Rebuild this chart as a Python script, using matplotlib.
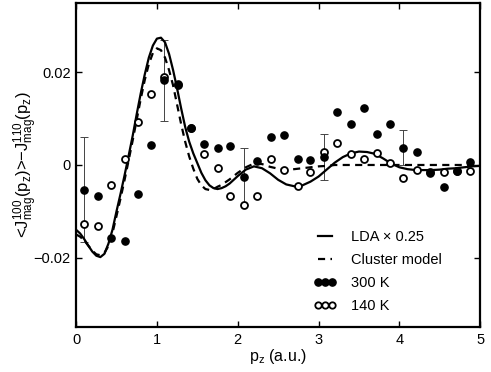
import matplotlib
matplotlib.use("Agg")
import matplotlib.pyplot as plt
from matplotlib.lines import Line2D

plt.rcParams['font.family'] = ['Liberation Sans', 'DejaVu Sans']
plt.rcParams['mathtext.fontset'] = 'custom'
plt.rcParams['mathtext.rm'] = 'Liberation Sans'
plt.rcParams['mathtext.it'] = 'Liberation Sans:italic'
plt.rcParams['mathtext.default'] = 'regular'

# ---- data ----
curve_x = [0.0, 0.05, 0.1, 0.15, 0.2, 0.25, 0.3, 0.35, 0.4, 0.45, 0.5, 0.55,
           0.6, 0.65, 0.7, 0.75, 0.8, 0.85, 0.9, 0.95, 1.0, 1.05, 1.1, 1.15,
           1.2, 1.25, 1.3, 1.35, 1.4, 1.45, 1.5, 1.55, 1.6, 1.65, 1.7, 1.75,
           1.8, 1.85, 1.9, 2.0, 2.1, 2.2, 2.3, 2.4, 2.5, 2.6, 2.7, 2.8, 2.9,
           3.0, 3.1, 3.2, 3.3, 3.4, 3.5, 3.6, 3.7, 3.8, 3.9, 4.0, 4.1, 4.2,
           4.3, 4.4, 4.5, 4.6, 4.7, 4.8, 4.9, 5.0]
lda = [-0.0140, -0.0148, -0.0160, -0.0174, -0.0187, -0.0196, -0.0199, -0.0192,
       -0.0170, -0.0140, -0.0100, -0.0062, -0.0022, 0.0020, 0.0063, 0.0110,
       0.0155, 0.0196, 0.0232, 0.0258, 0.0273, 0.0275, 0.0265, 0.0240, 0.0205,
       0.0165, 0.0122, 0.0082, 0.0050, 0.0025, 0.0004, -0.0017, -0.0033,
       -0.0044, -0.0050, -0.0052, -0.0050, -0.0046, -0.0040, -0.0024, -0.0010,
       -0.0003, -0.0007, -0.0018, -0.0032, -0.0042, -0.0046, -0.0044, -0.0036,
       -0.0025, -0.0010, 0.0005, 0.0017, 0.0025, 0.0029, 0.0028, 0.0024,
       0.0014, 0.0003, -0.0005, -0.0009, -0.0011, -0.0011, -0.0011, -0.0010,
       -0.0008, -0.0007, -0.0005, -0.0003, -0.0002]
cluster = [-0.0150, -0.0155, -0.0163, -0.0174, -0.0185, -0.0193, -0.0195,
           -0.0190, -0.0175, -0.0147, -0.0110, -0.0072, -0.0032, 0.0010, 0.0053,
           0.0098, 0.0143, 0.0184, 0.0218, 0.0242, 0.0252, 0.0248, 0.0232,
           0.0205, 0.0172, 0.0130, 0.0088, 0.0050, 0.0018, -0.0008, -0.0030,
           -0.0044, -0.0052, -0.0054, -0.0052, -0.0047, -0.0043, -0.0037,
           -0.0031, -0.0017, -0.0005, 0.0003, 0.0002, -0.0004, -0.0008, -0.0010,
           -0.0009, -0.0007, -0.0005, -0.0003, -0.0002, 0.0, 0.0, 0.0, 0.0, 0.0,
           0.0, 0.0, 0.0, 0.0, 0.0, 0.0, 0.0, 0.0, 0.0, 0.0, 0.0, 0.0, 0.0, 0.0]

pz = [0.10, 0.27, 0.43, 0.60, 0.76, 0.93, 1.09, 1.26, 1.42, 1.58, 1.75, 1.91,
      2.08, 2.24, 2.41, 2.57, 2.74, 2.90, 3.07, 3.23, 3.40, 3.56, 3.72, 3.89,
      4.05, 4.22, 4.38, 4.55, 4.71, 4.88]
t300 = [-0.0053, -0.0066, -0.0157, -0.0164, -0.0063, 0.0043, 0.0183, 0.0175,
        0.0080, 0.0045, 0.0036, 0.0042, -0.0025, 0.0009, 0.0060, 0.0064, 0.0012,
        0.0011, 0.0017, 0.0115, 0.0088, 0.0124, 0.0067, 0.0088, 0.0037, 0.0029,
        -0.0018, -0.0047, -0.0014, 0.0006]
t140 = [-0.0127, -0.0131, -0.0043, 0.0013, 0.0092, 0.0153, 0.0191, 0.0172,
        0.0080, 0.0023, -0.0007, -0.0068, -0.0086, -0.0066, 0.0012, -0.0011,
        -0.0045, -0.0015, 0.0029, 0.0047, 0.0024, 0.0012, 0.0025, 0.0004,
        -0.0029, -0.0011, -0.0016, -0.0016, -0.0012, -0.0012]
err_idx = [0, 6, 12, 18, 24]
err_val = [0.0113, 0.0088, 0.0062, 0.0049, 0.0038]

xticks = [0, 1, 2, 3, 4, 5]
yticks = [-0.02, 0, 0.02]
ytick_labels = ['\u22120.02', '0', '0.02']

# ---- figure ----
fig = plt.figure(figsize=(4.91, 3.72), dpi=100)
ax = fig.add_axes([0.155, 0.121, 0.823, 0.871])

ax.errorbar([pz[i] for i in err_idx], [t300[i] for i in err_idx], yerr=err_val,
            fmt='none', ecolor='#444444', elinewidth=0.7, capsize=3,
            capthick=0.7, zorder=2)
ax.plot(curve_x, lda, color='black', lw=1.6, zorder=3)
ax.plot(curve_x, cluster, color='black', lw=1.6, dashes=(3.2, 2.4), zorder=3)
ax.plot(pz, t140, linestyle='none', marker='o', ms=5, mfc='white',
        mec='black', mew=1.3, zorder=4)
ax.plot(pz, t300, linestyle='none', marker='o', ms=5.2, mfc='black',
        mec='black', zorder=5)

ax.set_xlim(0, 5)
ax.set_ylim(-0.035, 0.035)
ax.set_xticks(xticks)
ax.set_yticks(yticks)
ax.set_yticklabels(ytick_labels)
ax.tick_params(direction='in', length=4, width=1, top=True, right=True,
               labelsize=10.5, pad=4)
for s in ax.spines.values():
    s.set_linewidth(1.6)

ax.set_xlabel('p$_z$ (a.u.)', fontsize=11.5, labelpad=0)
ax.set_ylabel('<J$^{100}_{mag}$(p$_z$)>\u2212J$^{110}_{mag}$(p$_z$)',
              fontsize=12, labelpad=-5)

handles = [
    Line2D([], [], color='black', lw=1.6),
    Line2D([], [], color='black', lw=1.6, dashes=(3.2, 2.4)),
    Line2D([], [], linestyle='none', marker='o', ms=5.2, mfc='black', mec='black'),
    Line2D([], [], linestyle='none', marker='o', ms=4.6, mfc='white', mec='black', mew=1.3),
]
labels = ['LDA \u00d7 0.25', 'Cluster model', '300 K', '140 K']
ax.legend(handles, labels, loc='upper left', bbox_to_anchor=(0.555, 0.34),
          frameon=False, numpoints=3, handlelength=1.6, handletextpad=1.0,
          labelspacing=0.62, fontsize=10.5, markerscale=1.0)

fig.savefig('out.png', dpi=100)
